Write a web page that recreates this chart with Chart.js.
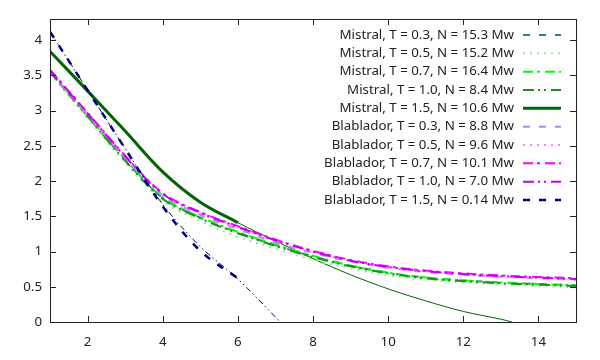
<!DOCTYPE html>
<html>
<head>
<meta charset="utf-8">
<script src="https://cdn.jsdelivr.net/npm/chart.js@4.4.1/dist/chart.umd.min.js"></script>
<style>
  html, body { margin: 0; padding: 0; background: #fff; }
  #wrap { width: 600px; height: 360px; }
</style>
</head>
<body>
<div id="wrap"><canvas id="chart"></canvas></div>
<script>
// measured points
var xShort = [1, 2, 3, 4, 5, 6];
var xLong = [1, 2, 3, 4, 5, 6, 7, 8, 9, 10, 11, 12, 13, 14, 15];

var mistral03 = [3.55, 2.92, 2.30, 1.76, 1.48, 1.27, 1.09, 0.93, 0.80, 0.70, 0.63, 0.59, 0.56, 0.54, 0.52];
var mistral05 = [3.53, 2.89, 2.26, 1.72, 1.43, 1.21, 1.04, 0.88, 0.76, 0.66, 0.60, 0.56, 0.53, 0.51, 0.49];
var mistral07 = [3.56, 2.93, 2.31, 1.77, 1.49, 1.28, 1.10, 0.94, 0.80, 0.70, 0.63, 0.59, 0.56, 0.54, 0.52];
var mistral10 = [3.55, 2.92, 2.29, 1.75, 1.47, 1.26, 1.08, 0.92, 0.79, 0.69, 0.62, 0.58, 0.55, 0.53, 0.51];
var mistral15 = [3.84, 3.28, 2.71, 2.13, 1.70, 1.41];
var blablador03 = [3.56, 2.94, 2.33, 1.80, 1.52, 1.32, 1.13, 0.98, 0.86, 0.77, 0.71, 0.67, 0.64, 0.62, 0.60];
var blablador05 = [3.57, 2.95, 2.34, 1.81, 1.54, 1.34, 1.15, 0.99, 0.87, 0.78, 0.72, 0.68, 0.65, 0.63, 0.61];
var blablador07 = [3.58, 2.97, 2.36, 1.83, 1.56, 1.36, 1.17, 1.01, 0.88, 0.79, 0.73, 0.69, 0.66, 0.64, 0.62];
var blablador10 = [3.57, 2.96, 2.35, 1.82, 1.55, 1.35, 1.16, 1.00, 0.87, 0.78, 0.72, 0.68, 0.65, 0.63, 0.61];
var blablador15 = [4.12, 3.29, 2.46, 1.64, 1.01, 0.62];

// fitted curves for T = 1.5
var xFitMistral15 = [1, 2, 3, 4, 5, 6, 7, 8, 9, 10, 11, 12, 13, 13.3];
var fitMistral15 = [3.84, 3.28, 2.71, 2.13, 1.70, 1.41, 1.15, 0.90, 0.67, 0.47, 0.30, 0.15, 0.04, 0];
var xFitBlablador15 = [1, 2, 3, 4, 5, 6, 7, 7.12];
var fitBlablador15 = [4.12, 3.29, 2.46, 1.67, 1.07, 0.61, 0.07, 0];

var xTicks = [2, 4, 6, 8, 10, 12, 14];
var yTicks = [0, 0.5, 1, 1.5, 2, 2.5, 3, 3.5, 4];

var labels = [
    'Mistral, T = 0.3, N = 15.3 Mw',
    'Mistral, T = 0.5, N = 15.2 Mw',
    'Mistral, T = 0.7, N = 16.4 Mw',
    'Mistral, T = 1.0, N = 8.4 Mw',
    'Mistral, T = 1.5, N = 10.6 Mw',
    'Blablador, T = 0.3, N = 8.8 Mw',
    'Blablador, T = 0.5, N = 9.6 Mw',
    'Blablador, T = 0.7, N = 10.1 Mw',
    'Blablador, T = 1.0, N = 7.0 Mw',
    'Blablador, T = 1.5, N = 0.14 Mw'
];
var seriesX = [xLong, xLong, xLong, xLong, xShort, xLong, xLong, xLong, xLong, xShort];
var seriesY = [mistral03, mistral05, mistral07, mistral10, mistral15,
               blablador03, blablador05, blablador07, blablador10, blablador15];

var colors = ['#2e8b57', '#90ee90', '#00ff00', '#228b22', '#006400',
              '#c080ff', '#ff80ff', '#ff00ff', '#bf00ff', '#000080'];
var dashes = [[7, 9], [2, 5], [10, 4, 3, 5], [11, 4, 2, 4, 2, 5], [],
              [7, 9], [2, 5], [10, 4, 3, 5], [11, 4, 2, 4, 2, 5], [7, 9]];
var widths = [2, 2, 2, 2, 3, 2, 2, 2, 2, 2.5];

var FONT = 'Noto Sans';

function pts(xs, ys) {
    return xs.map(function (x, i) { return { x: x, y: ys[i] }; });
}

var datasets = labels.map(function (lab, i) {
    return {
        label: lab,
        data: pts(seriesX[i], seriesY[i]),
        borderColor: colors[i],
        borderWidth: widths[i],
        borderDash: dashes[i],
        pointRadius: 0,
        fill: false,
        tension: 0.35,
        order: 20 - i
    };
});
datasets.push({
    label: '',
    data: pts(xFitMistral15, fitMistral15),
    borderColor: '#006400',
    borderWidth: 1,
    pointRadius: 0,
    tension: 0.35,
    order: 30
});
datasets.push({
    label: '',
    data: pts(xFitBlablador15, fitBlablador15),
    borderColor: '#000080',
    borderWidth: 1,
    borderDash: [6, 3, 1.5, 3, 1.5, 3],
    pointRadius: 0,
    tension: 0.35,
    order: 1
});

// gnuplot style frame with inward ticks on all four sides
var framePlugin = {
    id: 'frame',
    afterDraw: function (chart) {
        var ctx = chart.ctx, a = chart.chartArea;
        var xs = chart.scales.x, ys = chart.scales.y;
        ctx.save();
        ctx.strokeStyle = '#222';
        ctx.lineWidth = 1;
        ctx.strokeRect(a.left + 0.5, a.top + 0.5, a.right - a.left, a.bottom - a.top);
        ctx.beginPath();
        xTicks.forEach(function (v) {
            var px = Math.round(xs.getPixelForValue(v)) + 0.5;
            ctx.moveTo(px, a.bottom); ctx.lineTo(px, a.bottom - 6);
            ctx.moveTo(px, a.top); ctx.lineTo(px, a.top + 6);
        });
        yTicks.forEach(function (v) {
            var py = Math.round(ys.getPixelForValue(v)) + 0.5;
            ctx.moveTo(a.left, py); ctx.lineTo(a.left + 6, py);
            ctx.moveTo(a.right, py); ctx.lineTo(a.right - 6, py);
        });
        ctx.stroke();
        ctx.restore();
    }
};

// key inside the plot, text right aligned, sample on the right
var keyPlugin = {
    id: 'key',
    afterDraw: function (chart) {
        var ctx = chart.ctx;
        var textRight = 514, lineStart = 523, lineEnd = 561, y0 = 35, step = 18.33;
        ctx.save();
        ctx.font = '13.3px "' + FONT + '"';
        ctx.textAlign = 'right';
        ctx.textBaseline = 'middle';
        var row = 0;
        chart.data.datasets.forEach(function (ds) {
            if (!ds.label) return;
            var y = y0 + row * step;
            ctx.fillStyle = '#222';
            ctx.fillText(ds.label, textRight, y);
            ctx.strokeStyle = ds.borderColor;
            ctx.lineWidth = ds.borderWidth;
            ctx.setLineDash(ds.borderDash || []);
            ctx.beginPath();
            ctx.moveTo(lineStart, y);
            ctx.lineTo(lineEnd, y);
            ctx.stroke();
            ctx.setLineDash([]);
            row++;
        });
        ctx.restore();
    }
};

new Chart(document.getElementById('chart'), {
    type: 'line',
    data: { datasets: datasets },
    options: {
        responsive: true,
        maintainAspectRatio: false,
        animation: false,
        layout: { padding: { top: 19, right: 24, left: 0, bottom: 0 } },
        plugins: {
            legend: { display: false },
            tooltip: { enabled: false }
        },
        scales: {
            x: {
                type: 'linear',
                min: 1,
                max: 15,
                grid: { display: false, drawTicks: false },
                border: { display: false },
                ticks: {
                    padding: 12, color: '#222', font: { family: FONT, size: 13.3 },
                    callback: function (v) { return String(v); }
                },
                afterBuildTicks: function (s) { s.ticks = xTicks.map(function (v) { return { value: v }; }); },
                afterFit: function (s) { s.height = 38; }
            },
            y: {
                type: 'linear',
                min: 0,
                max: 4.3,
                grid: { display: false, drawTicks: false },
                border: { display: false },
                ticks: {
                    padding: 8, color: '#222', font: { family: FONT, size: 13.3 },
                    callback: function (v) { return String(v); }
                },
                afterBuildTicks: function (s) { s.ticks = yTicks.map(function (v) { return { value: v }; }); },
                afterFit: function (s) { s.width = 50; }
            }
        }
    },
    plugins: [framePlugin, keyPlugin]
});
</script>
</body>
</html>
